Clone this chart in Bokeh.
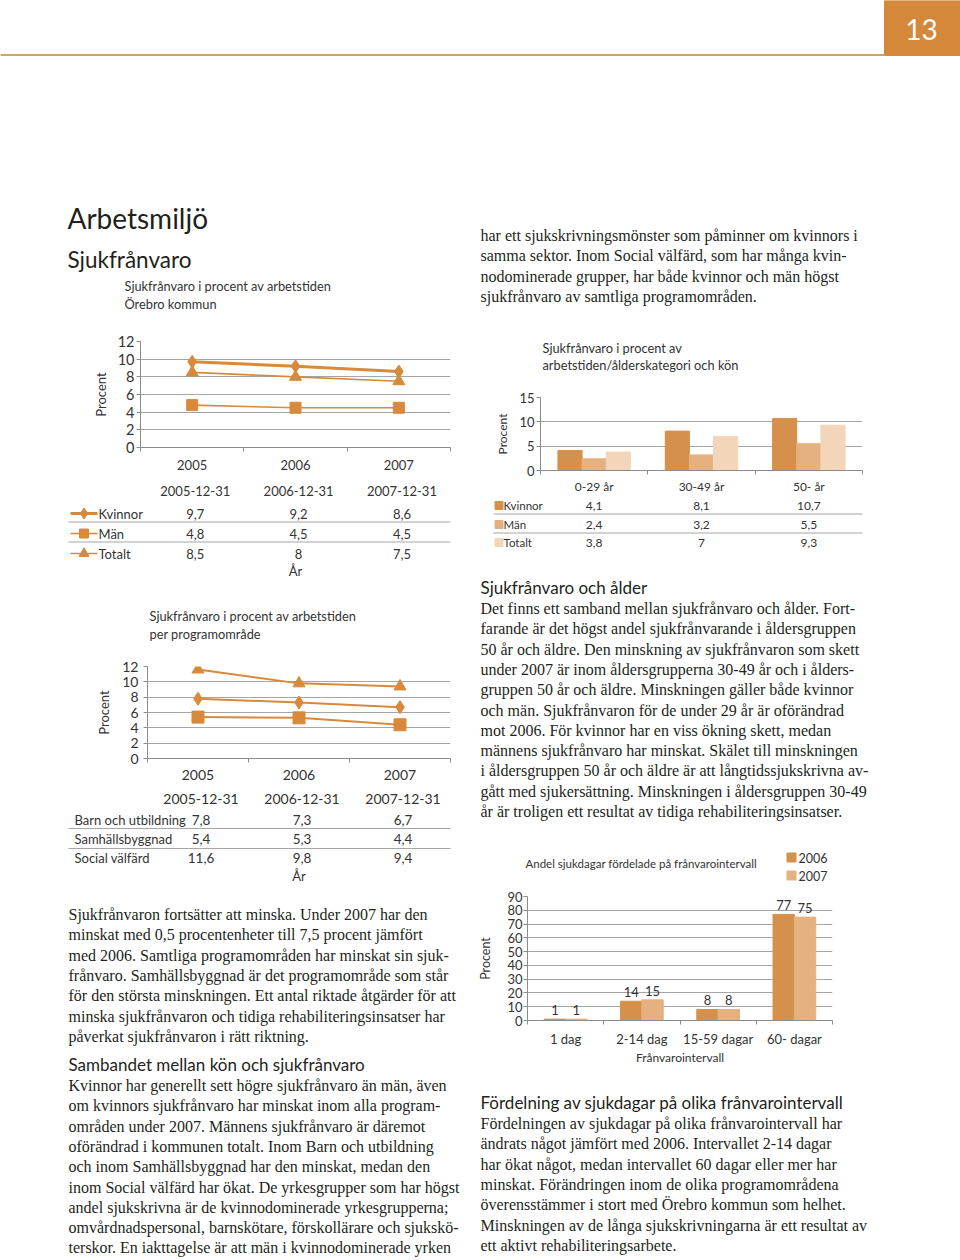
from bokeh.plotting import figure
from bokeh.layouts import column, row
from bokeh.models import Range1d, FixedTicker, Spacer
from bokeh.core.properties import value
from bokeh.embed import file_html
from bokeh.resources import INLINE

# ---------------- data ----------------
years = ["2005", "2006", "2007"]
dates = ["2005-12-31", "2006-12-31", "2007-12-31"]
kon_names = ["Kvinnor", "Män", "Totalt"]
kvinnor = [9.7, 9.2, 8.6]
man = [4.8, 4.5, 4.5]
totalt = [8.5, 8.0, 7.5]

prog_names = ["Barn och utbildning", "Samhällsbyggnad", "Social välfärd"]
barn = [7.8, 7.3, 6.7]
samhall = [5.4, 5.3, 4.4]
social = [11.6, 9.8, 9.4]

age_groups = ["0-29 år", "30-49 år", "50- år"]
age_kvinnor = [4.1, 8.1, 10.7]
age_man = [2.4, 3.2, 5.5]
age_totalt = [3.8, 7.0, 9.3]

intervals = ["1 dag", "2-14 dag", "15-59 dagar", "60- dagar"]
int_years = ["2006", "2007"]
share_2006 = [1, 14, 8, 77]
share_2007 = [1, 15, 8, 75]

yticks_line = [0, 2, 4, 6, 8, 10, 12]
yticks_age = [0, 5, 10, 15]
yticks_int = [0, 10, 20, 30, 40, 50, 60, 70, 80, 90]

# ---------------- texts ----------------
page_no = "13"
title_main = "Arbetsmiljö"
title_sub = "Sjukfrånvaro"
c1_title = ["Sjukfrånvaro i procent av arbetstiden", "Örebro kommun"]
c2_title = ["Sjukfrånvaro i procent av arbetstiden", "per programområde"]
c3_title = ["Sjukfrånvaro i procent av", "arbetstiden/ålderskategori och kön"]
c4_title = "Andel sjukdagar fördelade på frånvarointervall"
axis_y = "Procent"
axis_x = "År"
axis_x4 = "Frånvarointervall"

right_top = [
    "har ett sjukskrivningsmönster som påminner om kvinnors i",
    "samma sektor. Inom Social välfärd, som har många  kvin-",
    "nodominerade grupper, har både kvinnor och män högst",
    "sjukfrånvaro av samtliga programområden.",
]
left_p1 = [
    "Sjukfrånvaron fortsätter att minska. Under 2007 har den",
    "minskat med 0,5 procentenheter till 7,5 procent jämfört",
    "med 2006. Samtliga programområden har minskat sin sjuk-",
    "frånvaro. Samhällsbyggnad är det programområde som står",
    "för den största minskningen. Ett antal riktade åtgärder för att",
    "minska sjukfrånvaron och tidiga rehabiliteringsinsatser har",
    "påverkat sjukfrånvaron i rätt riktning.",
]
left_h2 = "Sambandet mellan kön och sjukfrånvaro"
left_p2 = [
    "Kvinnor har generellt sett högre sjukfrånvaro än män, även",
    "om kvinnors sjukfrånvaro har minskat inom alla program-",
    "områden under 2007. Männens sjukfrånvaro är däremot",
    "oförändrad i kommunen totalt. Inom Barn och utbildning",
    "och inom Samhällsbyggnad har den minskat, medan den",
    "inom Social välfärd har ökat. De yrkesgrupper som har högst",
    "andel sjukskrivna är de kvinnodominerade yrkesgrupperna;",
    "omvårdnadspersonal, barnskötare, förskollärare och sjukskö-",
    "terskor. En iakttagelse är att män i kvinnodominerade yrken",
]
right_h1 = "Sjukfrånvaro och ålder"
right_p1 = [
    "Det finns ett samband mellan sjukfrånvaro och ålder. Fort-",
    "farande är det högst andel sjukfrånvarande i åldersgruppen",
    "50 år och äldre. Den minskning av sjukfrånvaron som skett",
    "under 2007 är inom åldersgrupperna 30-49 år och i ålders-",
    "gruppen 50 år och äldre. Minskningen gäller både kvinnor",
    "och män. Sjukfrånvaron för de under 29 år är oförändrad",
    "mot 2006. För kvinnor har en viss ökning skett, medan",
    "männens sjukfrånvaro har minskat. Skälet till minskningen",
    "i åldersgruppen 50 år och äldre är att långtidssjukskrivna av-",
    "gått med sjukersättning. Minskningen i åldersgruppen 30-49",
    "år är troligen ett resultat av tidiga rehabiliteringsinsatser.",
]
right_h2 = "Fördelning av sjukdagar på olika frånvarointervall"
right_p2 = [
    "Fördelningen av sjukdagar på olika frånvarointervall har",
    "ändrats något jämfört med 2006.  Intervallet 2-14 dagar",
    "har ökat något, medan intervallet 60 dagar eller mer har",
    "minskat.  Förändringen inom de olika programområdena",
    "överensstämmer i stort med Örebro kommun som helhet.",
    "Minskningen av de långa sjukskrivningarna är ett resultat av",
    "ett aktivt rehabiliteringsarbete.",
]

# ---------------- style ----------------
SANS = "Lato"
SERIF = "Liberation Serif"
TEXT = "#231f20"
CTEXT = "#333333"
ORANGE = "#d8893b"
BAR1 = "#d5914b"
BAR2 = "#e5b180"
BAR3 = "#f3d6ba"
GRID = "#a6a6a6"
AXIS = "#8c8c8c"
BOX = "#d5873a"
RULE = "#d2a06e"
LH = 20.3  # body line height
BODY = "16px"


def fmt(v):
    if float(v) == int(v):
        return str(int(v))
    return str(v).replace(".", ",")


def blank(w, h, xr, yr):
    p = figure(width=w, height=h, x_range=xr, y_range=yr, output_backend="svg",
               toolbar_location=None, min_border=0, outline_line_color=None,
               x_axis_location=None, y_axis_location=None)
    p.grid.visible = False
    return p


def page_fig(x0, y0, w, h):
    return blank(w, h, Range1d(x0, x0 + w), Range1d(y0 + h, y0))


def txt(p, xs, ys, texts, size, font=SANS, color=CTEXT, align="left", baseline="middle", **kw):
    p.text(x=xs, y=ys, text=texts, text_font=value(font), text_font_size=size,
           text_color=color, text_align=align, text_baseline=baseline, **kw)


def para(p, x, y0, lines, size=BODY):
    txt(p, [x] * len(lines), [y0 + i * LH for i in range(len(lines))], lines, size,
        font=SERIF, color=TEXT)


def chart_fig(x0, y0, w, h, fl, ft, fr, fb, ncat, ymax):
    p = figure(width=w, height=h, x_range=Range1d(0, ncat), y_range=Range1d(0, ymax),
               output_backend="svg", toolbar_location=None, outline_line_color=None,
               min_border_left=fl - x0, min_border_right=x0 + w - fr,
               min_border_top=ft - y0, min_border_bottom=y0 + h - fb)
    return p


def style_axes(p, labels, yticks, tick_size, cat_size, cat_standoff, ylab_standoff,
               ylab_size="13px", tick_standoff=2):
    n = len(labels)
    centers = [i + 0.5 for i in range(n)]
    bounds = [i for i in range(n + 1)]
    xa = p.xaxis[0]
    xa.ticker = FixedTicker(ticks=centers, minor_ticks=bounds)
    xa.major_label_overrides = {c: l for c, l in zip(centers, labels)}
    xa.major_tick_out = 0
    xa.major_tick_in = 0
    xa.minor_tick_out = 4
    xa.minor_tick_in = 0
    xa.minor_tick_line_color = AXIS
    xa.axis_line_color = AXIS
    xa.major_label_text_font = SANS
    xa.major_label_text_font_size = cat_size
    xa.major_label_text_color = CTEXT
    xa.major_label_standoff = cat_standoff
    ya = p.yaxis[0]
    ya.ticker = FixedTicker(ticks=yticks)
    ya.axis_line_color = AXIS
    ya.major_tick_line_color = AXIS
    ya.major_tick_out = 4
    ya.major_tick_in = 0
    ya.minor_tick_line_color = None
    ya.major_label_text_font = SANS
    ya.major_label_text_font_size = tick_size
    ya.major_label_text_color = CTEXT
    ya.major_label_standoff = tick_standoff
    ya.axis_label = axis_y
    ya.axis_label_text_font = SANS
    ya.axis_label_text_font_style = "normal"
    ya.axis_label_text_font_size = ylab_size
    ya.axis_label_text_color = CTEXT
    ya.axis_label_standoff = ylab_standoff
    p.xgrid.visible = False
    p.ygrid.ticker = FixedTicker(ticks=yticks)
    p.ygrid.grid_line_color = GRID
    p.ygrid.grid_line_width = 1
    return centers


def table_fig(x0, y0, w, h, fl, fr, ncat):
    unit = (fr - fl) / ncat
    xr = Range1d((x0 - fl) / unit, ncat + (x0 + w - fr) / unit)
    p = blank(w, h, xr, Range1d(y0 + h, y0))
    return p, (lambda px: (px - fl) / unit)


def wrap(p, inset):
    # each figure sits in its own row, inset by a few pixels, so that Bokeh
    # does not align its frame with the frames of its neighbours
    if inset == 0:
        return row(p, spacing=0)
    return row(Spacer(width=inset, height=p.height), p, Spacer(width=inset, height=p.height),
               spacing=0)


# ================= header =================
H = page_fig(0, 0, 960, 330)
H.quad(left=[884], right=[960], top=[0], bottom=[55], color=BOX)
H.segment(x0=[0], y0=[54.5], x1=[884], y1=[54.5], line_color=RULE, line_width=2)
txt(H, [921], [29], [page_no], "28px", color="white", align="center")
txt(H, [67], [217], [title_main], "28px", color=TEXT)
txt(H, [67], [259], [title_sub], "22.5px", color=TEXT)
txt(H, [124, 124], [285, 303], c1_title, "12.8px")
para(H, 480, 235, right_top)

# ================= left column (x 0..470) =================
LW = 470
# Chart 1: frame x 140..450, y 341..447
i = 0
C1 = chart_fig(0 + i, 330, LW - 2 * i, 148, 140, 341, 450, 447, 3, 12)
cx = style_axes(C1, years, yticks_line, "14.5px", "13px", 8, 6)
C1.line(cx, kvinnor, line_width=3, color=ORANGE)
C1.scatter(cx, kvinnor, marker="diamond", size=13, color=ORANGE)
C1.line(cx, man, line_width=1.6, color=ORANGE)
C1.scatter(cx, man, marker="square", size=11, color=ORANGE)
C1.line(cx, totalt, line_width=1.6, color=ORANGE)
C1.scatter(cx, totalt, marker="triangle", size=12, color=ORANGE)
wC1 = wrap(C1, i)

# Table 1 + chart 2 title
i = 1
T1, u1 = table_fig(0 + i, 478, LW - 2 * i, 172, 140, 450, 3)
rows1_y = [513, 533, 553]
txt(T1, [c + 0.03 for c in cx], [490] * 3, dates, "13px", align="center")
for vals, y in zip([kvinnor, man, totalt], rows1_y):
    txt(T1, [c + 0.03 for c in cx], [y] * 3, [fmt(v) for v in vals], "13px", align="center")
T1.segment(x0=[u1(68)] * 2, y0=[521.5, 541.5], x1=[3] * 2, y1=[521.5, 541.5],
           line_color=GRID, line_width=1)
lw = [3, 1.6, 1.6]
mk = ["diamond", "square", "triangle"]
ms = [11, 9, 10]
for name, y, w_, m, s in zip(kon_names, rows1_y, lw, mk, ms):
    T1.segment(x0=[u1(70)], y0=[y], x1=[u1(97)], y1=[y], line_color=ORANGE, line_width=w_)
    T1.scatter([u1(83.5)], [y], marker=m, size=s, color=ORANGE)
txt(T1, [u1(98)] * 3, rows1_y, kon_names, "13px")
txt(T1, [1.5], [570], [axis_x], "13px", align="center")
txt(T1, [u1(149)] * 2, [615, 633], c2_title, "12.8px")
wT1 = wrap(T1, i)

# Chart 2: frame x 147..450, y 666..758
i = 2
C2 = chart_fig(0 + i, 650, LW - 2 * i, 135, 147, 666, 450, 758, 3, 12)
cx2 = style_axes(C2, years, yticks_line, "14px", "14px", 7, 7, tick_standoff=5)
for vals, m, s in zip([barn, samhall, social], ["diamond", "square", "triangle"], [13, 12, 12]):
    C2.line(cx2, vals, line_width=2, color=ORANGE)
    C2.scatter(cx2, vals, marker=m, size=s, color=ORANGE)
wC2 = wrap(C2, i)

# Table 2
i = 3
T2, u2 = table_fig(0 + i, 785, LW - 2 * i, 110, 147, 450, 3)
rows2_y = [819, 838, 857]
txt(T2, [c + 0.03 for c in cx2], [798] * 3, dates, "14px", align="center")
for vals, y in zip([barn, samhall, social], rows2_y):
    txt(T2, [c + 0.03 for c in cx2], [y] * 3, [fmt(v) for v in vals], "13.5px", align="center")
T2.segment(x0=[u2(68)] * 2, y0=[828, 848], x1=[3] * 2, y1=[828, 848],
           line_color=GRID, line_width=1)
txt(T2, [u2(74)] * 3, rows2_y, prog_names, "13px")
txt(T2, [1.5], [875], [axis_x], "13px", align="center")
wT2 = wrap(T2, i)

# Left body text
i = 4
TL = page_fig(0 + i, 895, LW - 2 * i, 365)
para(TL, 68, 914, left_p1)
txt(TL, [68], [1064], [left_h2], "17px", color=TEXT)
para(TL, 68, 1085, left_p2)
wTL = wrap(TL, i)

# ================= right column (x 470..960) =================
RX = 470
RW = 490
i = 0
RT0 = page_fig(RX + i, 330, RW - 2 * i, 55)
txt(RT0, [542, 542], [347, 364], c3_title, "12.8px")
wRT0 = wrap(RT0, i)

# Chart 3: frame x 540..862, y 397..474
i = 1
C3 = chart_fig(RX + i, 385, RW - 2 * i, 111, 540, 397, 862, 474, 3, 15)
cx3 = style_axes(C3, age_groups, yticks_age, "13px", "12px", 4, 6, ylab_size="12px")
BW3 = 0.225
for k, (vals, col) in enumerate(zip([age_kvinnor, age_man, age_totalt], [BAR1, BAR2, BAR3])):
    C3.vbar(x=[c + (k - 1) * BW3 for c in cx3], top=vals, width=BW3, color=col)
wC3 = wrap(C3, i)

i = 2
T3, u3 = table_fig(RX + i, 496, RW - 2 * i, 64, 540, 862, 3)
rows3_y = [505, 524, 542]
for vals, y in zip([age_kvinnor, age_man, age_totalt], rows3_y):
    txt(T3, cx3, [y] * 3, [fmt(v) for v in vals], "12px", align="center")
T3.segment(x0=[u3(493)] * 2, y0=[513.5, 532.5], x1=[3] * 2, y1=[513.5, 532.5],
           line_color=GRID, line_width=1)
T3.scatter([u3(498.5)] * 3, rows3_y, marker="square", size=8, color=[BAR1, BAR2, BAR3])
txt(T3, [u3(503)] * 3, rows3_y, kon_names, "11.5px")
wT3 = wrap(T3, i)

i = 3
TR1 = page_fig(RX + i, 560, RW - 2 * i, 280)
txt(TR1, [480], [587], [right_h1], "17px", color=TEXT)
para(TR1, 480, 608, right_p1)
wTR1 = wrap(TR1, i)

i = 4
RT4 = page_fig(RX + i, 840, RW - 2 * i, 45)
txt(RT4, [525], [863], [c4_title], "11.5px")
RT4.scatter([791, 791], [857, 875], marker="square", size=9, color=[BAR1, BAR2])
txt(RT4, [798, 798], [857, 875], int_years, "12.5px")
wRT4 = wrap(RT4, i)

# Chart 4: frame x 525..832, y 896..1020
i = 5
C4 = chart_fig(RX + i, 885, RW - 2 * i, 185, 525, 896, 832, 1020, 4, 90)
cx4 = style_axes(C4, intervals, yticks_int, "13px", "13px", 6, 11, ylab_size="12.5px", tick_standoff=1)
C4.xaxis[0].axis_label = axis_x4
C4.xaxis[0].axis_label_text_font = SANS
C4.xaxis[0].axis_label_text_font_style = "normal"
C4.xaxis[0].axis_label_text_font_size = "12px"
C4.xaxis[0].axis_label_text_color = CTEXT
C4.xaxis[0].axis_label_standoff = 0
BW4 = 0.28
for k, (vals, col) in enumerate(zip([share_2006, share_2007], [BAR1, BAR2])):
    xs = [c + (k - 0.5) * BW4 for c in cx4]
    C4.vbar(x=xs, top=vals, width=BW4, color=col)
    txt(C4, xs, vals, [fmt(v) for v in vals], "13px", align="center", baseline="bottom",
        y_offset=-4)
wC4 = wrap(C4, i)

i = 6
TR2 = page_fig(RX + i, 1070, RW - 2 * i, 190)
txt(TR2, [480], [1102], [right_h2], "17px", color=TEXT)
para(TR2, 480, 1123, right_p2)
wTR2 = wrap(TR2, i)

left_col = column(wC1, wT1, wC2, wT2, wTL, spacing=0)
right_col = column(wRT0, wC3, wT3, wTR1, wRT4, wC4, wTR2, spacing=0)
page = column(H, row(left_col, right_col, spacing=0), spacing=0)

open("out.html", "w").write(file_html(page, INLINE))
